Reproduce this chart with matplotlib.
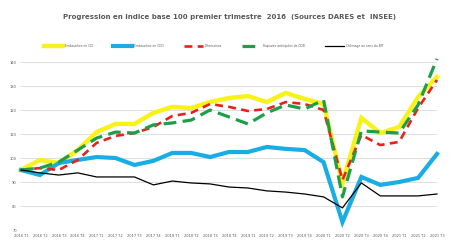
import matplotlib
matplotlib.use("Agg")
import matplotlib.pyplot as plt

quarters = ["2016 T1", "2016 T2", "2016 T3", "2016 T4", "2017 T1", "2017 T2", "2017 T3", "2017 T4",
            "2018 T1", "2018 T2", "2018 T3", "2018 T4", "2019 T1", "2019 T2", "2019 T3", "2019 T4",
            "2020 T1", "2020 T2", "2020 T3", "2020 T4", "2021 T1", "2021 T2", "2021 T3"]

cdi = [95, 99.2, 97.9, 103.3, 110.8, 114.2, 114.2, 118.8, 121.3, 120.8, 123.3, 125, 125.8, 123.3,
       127.1, 124.6, 122.5, 89.6, 116.7, 110.4, 112.9, 125.4, 133.8]
cdd = [95, 92.9, 97.9, 99.2, 100.4, 100, 97.1, 98.8, 102.1, 102.1, 100.4, 102.5, 102.5, 104.6,
       103.8, 103.3, 98.3, 73.3, 92.1, 88.8, 90, 91.7, 101.7]
demissions = [95, 95.8, 95, 99.2, 106.3, 109.2, 110.4, 112.9, 117.5, 118.8, 122.5, 121.3, 119.6, 120.4,
              123.3, 122.5, 120, 90.8, 109.6, 105.4, 106.7, 120.8, 132.5]
ruptures = [95, 95.8, 98.3, 103.3, 108.3, 110.8, 110.4, 113.8, 114.6, 115.8, 120, 117.1, 114.2, 118.8,
            122.1, 120.4, 124.2, 83.8, 111.3, 110.8, 110.4, 122.1, 141.3]
chomage = [95, 93.8, 92.9, 93.8, 92.1, 92.1, 92.1, 88.8, 90.4, 89.6, 89.2, 87.9, 87.5, 86.3,
           85.8, 85, 83.8, 79.2, 89.6, 84.2, 84.2, 84.2, 85]

yticks = [70, 80, 90, 100, 110, 120, 130, 140]
ytick_labels = ["70", "80", "90", "100", "110", "120", "130", "140"]

series_names = ["Embauches en CDI", "Embauches en CDD", "Démissions",
                "Ruptures anticipées de CDD", "Chômage au sens du BIT"]

fig = plt.figure(figsize=(4.6, 2.52), dpi=100)
ax = fig.add_axes([21/460, 1 - 230/252, (437 - 21)/460, (230 - 62)/252])

x = list(range(len(quarters)))
l1, = ax.plot(x, cdi, color="#F7F21A", lw=3.2, solid_joinstyle="miter", clip_on=False, zorder=3)
l2, = ax.plot(x, cdd, color="#18ADE4", lw=3.0, solid_joinstyle="miter", clip_on=False, zorder=3)
l3, = ax.plot(x, demissions, color="#E8201E", lw=1.9, dashes=(3, 2), clip_on=False, zorder=4)
l4, = ax.plot(x, ruptures, color="#1E9E48", lw=2.3, dashes=(4, 2), clip_on=False, zorder=4)
l5, = ax.plot(x, chomage, color="black", lw=0.9, clip_on=False, zorder=5)

ax.set_xlim(0, len(quarters) - 1)
ax.set_ylim(70, 140)
ax.set_yticks(yticks)
ax.set_yticklabels(ytick_labels)
ax.set_xticks(x)
ax.set_xticklabels(quarters)
ax.tick_params(axis="both", length=0, labelsize=2.6, colors="#595959", pad=3)
ax.grid(axis="y", color="#D9D9D9", lw=0.6)
ax.set_axisbelow(True)
for s in ax.spines.values():
    s.set_visible(False)

fig.text(0.5, 1 - 17/252, "Progression en indice base 100 premier trimestre  2016  (Sources DARES et  INSEE)",
         ha="center", va="center", fontsize=5.0, fontweight="bold", color="#595959")

fig.legend([l1, l2, l3, l4, l5], series_names, loc="center", bbox_to_anchor=(213.5/460, 1 - 46/252),
           ncol=5, frameon=False, fontsize=2.2, handlelength=6.2, columnspacing=6.5, handletextpad=0.65,
           labelcolor="#595959")

fig.savefig("out.png", dpi=100, facecolor="white")
